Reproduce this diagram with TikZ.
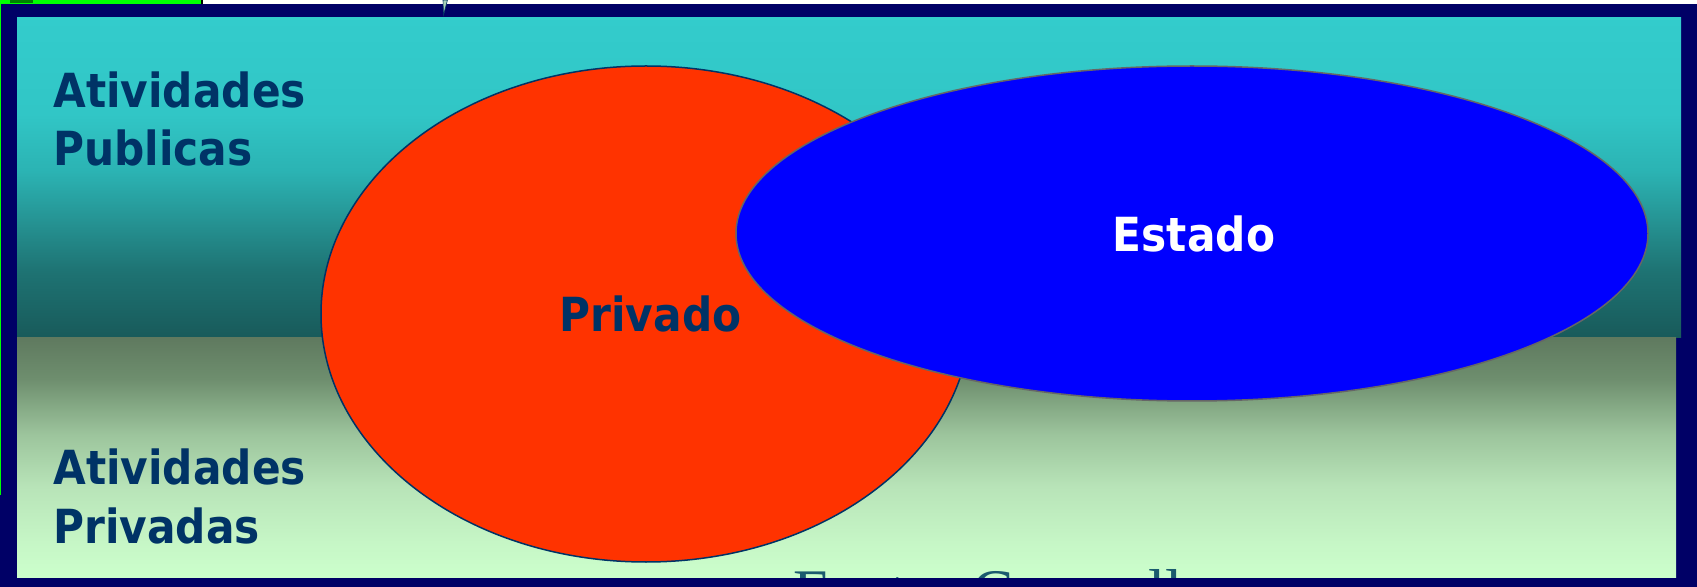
\documentclass[tikz,border=0pt]{standalone}
\usepackage{fontspec}
\usetikzlibrary{shapes.geometric}
\newfontfamily\lblfont{DejaVu Sans}[FakeStretch=0.9]
\newfontfamily\srcfont{Liberation Serif}
\definecolor{navy}{HTML}{000066}
\definecolor{lblblue}{HTML}{003366}
\definecolor{redfill}{HTML}{FF3300}
\definecolor{bluefill}{HTML}{0000FF}
\definecolor{greyedge}{HTML}{666666}
\definecolor{brightgreen}{HTML}{00FF00}
\definecolor{darkgreen}{HTML}{008000}
\definecolor{srcteal}{HTML}{1A5A6E}
\definecolor{sliver}{HTML}{A8D0B8}
\pgfdeclareverticalshading{topgrad}{100bp}{rgb(0bp)=(0.094,0.353,0.353); rgb(25bp)=(0.094,0.353,0.353); rgb(35.5bp)=(0.118,0.451,0.451); rgb(44bp)=(0.149,0.588,0.588); rgb(51bp)=(0.169,0.702,0.702); rgb(60bp)=(0.192,0.776,0.776); rgb(75bp)=(0.2,0.8,0.8); rgb(100bp)=(0.2,0.8,0.8)}
\pgfdeclareverticalshading{botgrad}{100bp}{rgb(0bp)=(0.8,1,0.8); rgb(25bp)=(0.8,1,0.8); rgb(32.5bp)=(0.776,0.965,0.776); rgb(44bp)=(0.722,0.894,0.722); rgb(55bp)=(0.612,0.769,0.612); rgb(66.5bp)=(0.431,0.557,0.431); rgb(75bp)=(0.373,0.478,0.373); rgb(100bp)=(0.373,0.478,0.373)}
\tikzset{
  lbl/.style={font=\lblfont\bfseries\fontsize{23.5}{29}\selectfont, text=lblblue, inner sep=0pt},
  blob/.style={ellipse, inner sep=0pt, line width=0.75pt},
}
\begin{document}
\begin{tikzpicture}[x=0.5pt,y=-0.5pt]
\useasboundingbox (0,0) rectangle (1697,587);
% background and frame
\fill[white] (0,0) rectangle (1697,587);
\fill[navy] (0,4) rectangle (1697,587);
\fill[brightgreen] (0,0) rectangle (201,4);
\fill[darkgreen] (10,0) rectangle (33,3);
\fill[black] (201,0) rectangle (203,4);
\fill[brightgreen] (0,0) rectangle (1.2,495);
% panels
\shade[shading=topgrad] (17,18) rectangle (1681,338);
\shade[shading=botgrad] (17,338) rectangle (1676,578);
% side labels
\node[lbl, anchor=base west] (pub1) at (53,108) {Atividades};
\node[lbl, anchor=base west] (pub2) at (53,166) {Publicas};
\node[lbl, anchor=base west] (prv1) at (53,485) {Atividades};
\node[lbl, anchor=base west] (prv2) at (53,543) {Privadas};
% ellipses
\node[blob, draw=lblblue, fill=redfill, minimum width=325pt, minimum height=248pt] (privado) at (646,314) {};
\node[lbl, anchor=base] (privtxt) at (650.5,332) {Privado};
\node[blob, draw=greyedge, fill=bluefill, minimum width=456pt, minimum height=167.5pt] (estado) at (1192,233.5) {};
\node[lbl, text=white, anchor=base] (esttxt) at (1194,252) {Estado};
% source text, partly hidden by the frame
\node[font=\srcfont\fontsize{31}{36}\selectfont, text=srcteal, anchor=base west, inner sep=0pt] (fonte) at (793,612) {Fonte: Campello};
\fill[navy] (0,578) rectangle (1697,587);
% small glyph fragment at the top
\fill[sliver, draw=lblblue, line width=0.3pt] (443,0) -- (447.5,0) -- (443.5,15) -- cycle;
\end{tikzpicture}
\end{document}
